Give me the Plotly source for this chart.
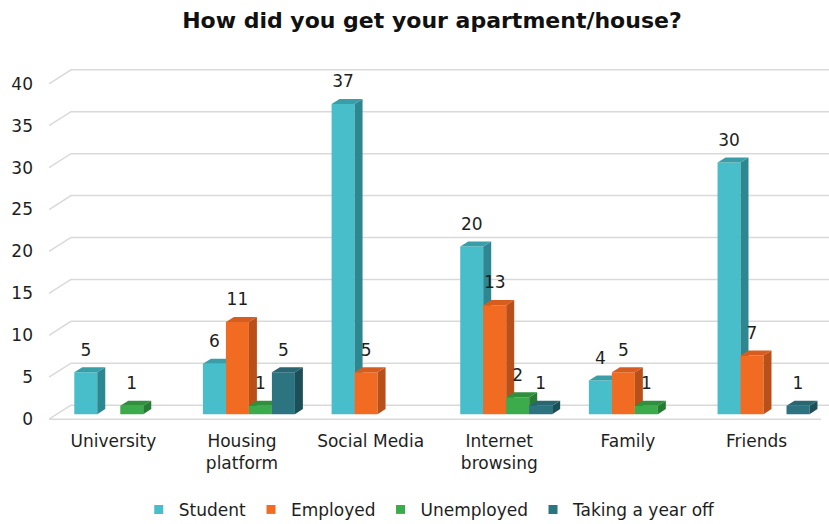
import plotly.graph_objects as go

# ---- data ----
categories = ["University", "Housing<br>platform", "Social Media",
              "Internet<br>browsing", "Family", "Friends"]
series_names = ["Student", "Employed", "Unemployed", "Taking a year off"]
student = [5, 6, 37, 20, 4, 30]
employed = [0, 11, 5, 13, 5, 7]
unemployed = [1, 1, 0, 2, 1, 0]
year_off = [0, 5, 0, 1, 0, 1]
y_ticks = [0, 5, 10, 15, 20, 25, 30, 35, 40]

series_values = [student, employed, unemployed, year_off]

# face colours for the pseudo-3D columns
front_colors = ["#47BECA", "#F26B22", "#3BAB4B", "#2D7481"]
side_colors = ["#2C8791", "#B94F19", "#287B34", "#1D4F58"]
top_colors = ["#3A9EA8", "#D65D1E", "#2F903E", "#286672"]

# ---- geometry in axis units ----
BAR_W = 0.1787        # width of one column
GROUP_SHIFT = 0.054   # columns sit slightly behind/right of the category label
DEPTH_X = 0.062       # column depth (horizontal)
DEPTH_Y = 0.6         # column depth (vertical)
FLOOR_FRONT = -0.6    # front edge of the floor
WALL_DX = 0.171       # back wall offset (horizontal)
WALL_DY = 1.07        # back wall offset (vertical, relative to column plane)
X_MIN, X_MAX = -0.5, 5.563
Y_MIN, Y_MAX = -0.7, 42
LABEL_GAP = 2.5       # value label distance above a column

fig = go.Figure()

# ---- back wall grid, side diagonals and floor edge ----
gx, gy = [], []
for v in y_ticks:
    gx += [X_MIN, X_MIN + WALL_DX, X_MAX, None]
    gy += [v + FLOOR_FRONT, v + WALL_DY, v + WALL_DY, None]
gx += [X_MIN, len(categories) - 0.5, None]
gy += [FLOOR_FRONT, FLOOR_FRONT, None]
fig.add_trace(go.Scatter(x=gx, y=gy, mode="lines",
                         line=dict(color="#D9D9D9", width=1.5),
                         hoverinfo="skip", showlegend=False))

# ---- columns: front, side and top faces, series by series ----
label_x, label_y, label_t = [], [], []
for k, vals in enumerate(series_values):
    fx, fy, sx, sy, tx, ty = [], [], [], [], [], []
    for i, v in enumerate(vals):
        if v == 0:
            continue
        c = i + GROUP_SHIFT + (k - 1.5) * BAR_W
        xl, xr = c - BAR_W / 2, c + BAR_W / 2
        fx += [xl, xr, xr, xl, xl, None]
        fy += [0, 0, v, v, 0, None]
        sx += [xr, xr + DEPTH_X, xr + DEPTH_X, xr, xr, None]
        sy += [0, DEPTH_Y, v + DEPTH_Y, v, 0, None]
        tx += [xl, xr, xr + DEPTH_X, xl + DEPTH_X, xl, None]
        ty += [v, v, v + DEPTH_Y, v + DEPTH_Y, v, None]
        label_x.append(c)
        label_y.append(v + LABEL_GAP)
        label_t.append(str(v))
    for xs, ys, col in ((fx, fy, front_colors[k]),
                        (sx, sy, side_colors[k]),
                        (tx, ty, top_colors[k])):
        fig.add_trace(go.Scatter(x=xs, y=ys, mode="none", fill="toself",
                                 fillcolor=col, hoverinfo="skip",
                                 showlegend=False))

# ---- value labels ----
fig.add_trace(go.Scatter(x=label_x, y=label_y, text=label_t, mode="text",
                         textposition="middle center",
                         textfont=dict(family="DejaVu Sans", size=17, color="#1E1E1E"),
                         hoverinfo="skip", showlegend=False))

# ---- legend entries ----
for k, name in enumerate(series_names):
    fig.add_trace(go.Scatter(x=[None], y=[None], mode="markers", name=name,
                             marker=dict(symbol="square", size=9,
                                         color=front_colors[k])))

fig.update_layout(
    width=829, height=524,
    margin=dict(l=49, r=0, t=62, b=104),
    paper_bgcolor="white", plot_bgcolor="white",
    font=dict(family="DejaVu Sans", size=17, color="#1E1E1E"),
    title=dict(text="<b>How did you get your apartment/house?</b>",
               font=dict(family="DejaVu Sans", size=22, color="#111111"),
               x=0.521, xref="container", xanchor="center",
               y=0.962, yref="container", yanchor="middle"),
    xaxis=dict(range=[X_MIN, X_MAX], tickmode="array",
               tickvals=list(range(len(categories))), ticktext=categories,
               showgrid=False, zeroline=False, showline=False, ticks="",
               ticklabelstandoff=9, tickfont=dict(size=17)),
    yaxis=dict(range=[Y_MIN, Y_MAX], tickmode="array", tickvals=y_ticks,
               showgrid=False, zeroline=False, showline=False, ticks="",
               ticklabelshift=5, ticklabelstandoff=15,
               tickfont=dict(size=17)),
    legend=dict(orientation="h", xref="container", yref="container",
                x=0.519, xanchor="center", y=0.027, yanchor="middle",
                font=dict(size=17)),
)

fig.write_html("out.html")
